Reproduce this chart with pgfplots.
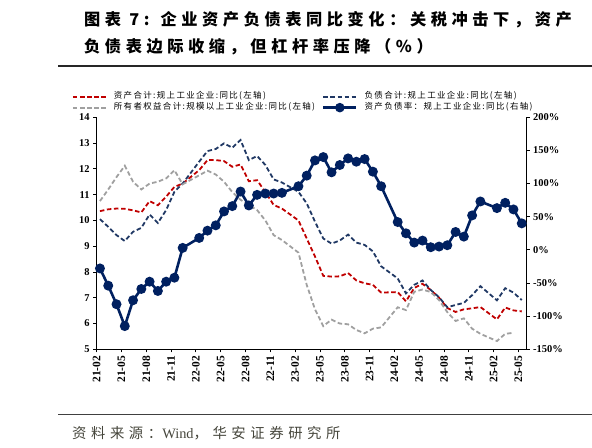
\documentclass[border=0pt]{standalone}
\usepackage{fontspec}
\setmainfont{Liberation Serif}
\newfontfamily\cjk{Noto Sans CJK SC}
\newfontfamily\cjkt[LetterSpace=28]{Noto Sans CJK SC}
\newfontfamily\cjks[LetterSpace=32]{Noto Sans CJK SC}
\newfontfamily\cjkl[LetterSpace=16]{Noto Sans CJK SC}
\usepackage{pgfplots}
\usepackage{pgfplotstable}
\pgfplotsset{compat=1.18}
\definecolor{cred}{RGB}{192,0,0}
\definecolor{cnavyd}{RGB}{32,56,100}
\definecolor{cgray}{RGB}{160,160,160}
\definecolor{cnavy}{RGB}{0,32,96}
\definecolor{csrc}{RGB}{70,70,60}

\pgfplotstableread{
i  red    navy   gray   ratio
0  10.36  10.05  10.75  -28
1  10.43  9.75   11.20  -54
2  10.46  9.43   11.68  -82
3  10.45  9.20   12.12  -115
4  10.39  9.56   11.50  -76
5  10.31  9.71   11.20  -59
6  10.75  10.23  11.43  -48
7  10.59  9.90   11.50  -62
8  10.92  10.40  11.63  -48
9  11.30  11.11  11.95  -42
10 11.43  11.43  11.40  3
12 11.95  12.28  11.75  18
13 12.34  12.69  11.93  29
14 12.34  12.77  11.78  37
15 12.30  12.99  11.50  58
16 12.08  12.82  11.10  66
17 12.17  13.12  10.80  88
18 11.52  12.34  10.60  67
19 11.56  12.50  10.40  83
20 11.10  12.15  10.00  85
21 10.60  11.59  9.43   85
22 10.46  11.47  9.24   86
24 10.00  11.11  8.75   96
25 9.30   10.66  7.50   112
26 8.60   9.95   6.55   135
27 7.85   9.30   5.90   140
28 7.82   9.10   6.15   117
29 7.83   9.22   6.00   128
30 7.96   9.45   5.97   138
31 7.67   9.14   5.75   133
32 7.56   9.05   5.62   137
33 7.50   8.80   5.80   118
34 7.20   8.22   5.85   96
36 7.22   7.75   6.63   42
37 6.86   7.17   6.52   25
38 7.38   7.50   7.23   11
39 7.54   7.67   7.32   14
40 7.30   7.30   7.22   4
41 7.00   7.02   6.91   5
42 6.60   6.63   6.44   7
43 6.45   6.72   6.10   27
44 6.55   6.80   6.20   20
45 6.59   7.10   5.80   52
46 6.64   7.45   5.60   73
48 6.16   6.90   5.32   63
49 6.62   7.37   5.60   71
50 6.51   7.20   5.64   61
51 6.47   6.91   nan    40
}\datatab

\pgfplotsset{
  common/.style={
    scale only axis,
    width=430.7bp, height=232bp,
    at={(96bp,98.7bp)}, anchor=south west,
    xmin=-0.48, xmax=51.6,
    tick align=outside,
    major tick length=3bp,
    axis line style={black, line width=0.9bp},
    tick style={black, line width=0.9bp},
    clip=false,
  }
}

\begin{document}
\begin{tikzpicture}
\path[use as bounding box] (0bp,0bp) rectangle (592bp,448bp);

% title
\node[anchor=west, inner sep=0pt] at (84bp,428bp) {\cjkt\bfseries\fontsize{16.3}{18}\selectfont 图表 7: 企业资产负债表同比变化：关税冲击下，资产};
\node[anchor=west, inner sep=0pt] at (84bp,401.3bp) {\cjkt\bfseries\fontsize{16.3}{18}\selectfont 负债表边际收缩，但杠杆率压降（\%）};
\draw[line width=1.2bp, black!85] (58bp,382bp) -- (592bp,382bp);

% source
\draw[line width=1bp, black!75] (58bp,33.3bp) -- (592bp,33.3bp);
\node[anchor=west, inner sep=0pt, text=csrc] at (72bp,14.4bp) {\fontsize{14.4}{16}\selectfont{\cjks 资料来源：}Wind{\cjks ，华安证券研究所}};

\begin{axis}[common,
  ymin=5, ymax=14,
  axis y line*=left, axis x line*=bottom,
  ytick={5,6,...,14},
  yticklabels={5,6,7,8,9,10,11,12,13,14},
  xtick={-0.4,2.6,5.6,8.6,11.6,14.6,17.6,20.6,23.6,26.6,29.6,32.6,35.6,38.6,41.6,44.6,47.6,50.6},
  xticklabels={21-02,21-05,21-08,21-11,22-02,22-05,22-08,22-11,23-02,23-05,23-08,23-11,24-02,24-05,24-08,24-11,25-02,25-05},
  xticklabel style={rotate=90, anchor=east, font=\bfseries\fontsize{11.5}{12}\selectfont},
  yticklabel style={font=\bfseries\fontsize{10.5}{11}\selectfont},
  legend columns=2,
  legend cell align=left,
  legend style={at={(-0.056,1.111)}, anchor=north west, draw=none, fill=none,
    inner sep=0pt, font=\cjkl\fontsize{8.5}{10}\selectfont,
    nodes={inner sep=0pt, text height=7bp, text depth=3.6bp},
    /tikz/every odd column/.append style={column sep=7bp},
    /tikz/every even column/.append style={column sep=7bp}},
  legend image code/.code={\draw[mark repeat=2,mark phase=2,#1] plot coordinates {(0bp,0bp) (16.5bp,0bp) (33bp,0bp)};},
]
\addplot[cred, line width=1.8bp, dash pattern=on 4.5bp off 2.6bp] table[x=i, y=red] {\datatab};
\addlegendentry{资产合计:规上工业企业:同比(左轴)}
\addplot[cnavyd, line width=1.8bp, dash pattern=on 4.5bp off 2.6bp] table[x=i, y=navy] {\datatab};
\addlegendentry{负债合计:规上工业企业:同比(左轴)}
\addplot[cgray, line width=1.8bp, dash pattern=on 4.5bp off 2.6bp] table[x=i, y=gray] {\datatab};
\addlegendentry{所有者权益合计:规模以上工业企业:同比(左轴)}
\addlegendimage{cnavy, line width=2.6bp, mark=*, mark size=3.4bp, mark options={solid}}
\addlegendentry{资产负债率：规上工业企业:同比(右轴)}
\end{axis}

\begin{axis}[common,
  ymin=-150, ymax=200,
  axis y line*=right, axis x line=none,
  ytick={-150,-100,...,200},
  yticklabels={-150\%,-100\%,-50\%,0\%,50\%,100\%,150\%,200\%},
  yticklabel style={font=\bfseries\fontsize{10.5}{11}\selectfont},
]
\addplot[cnavy, line width=2.6bp, mark=*, mark size=3.6bp, mark options={solid, fill=cnavy}] table[x=i, y=ratio] {\datatab};
\end{axis}
\end{tikzpicture}
\end{document}
